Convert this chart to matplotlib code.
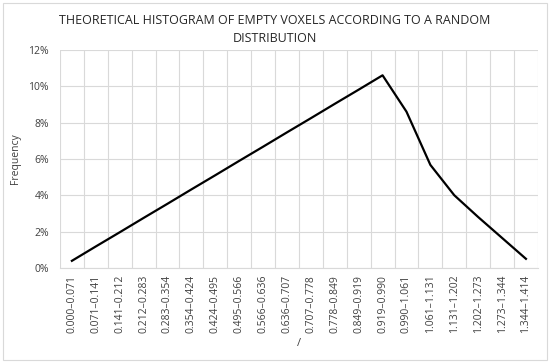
import matplotlib.pyplot as plt
from matplotlib.patches import Rectangle
from matplotlib.ticker import FuncFormatter, MultipleLocator

plt.rcParams["font.family"] = ["Open Sans", "DejaVu Sans"]

bins = [
    "0.000–0.071", "0.071–0.141", "0.141–0.212", "0.212–0.283", "0.283–0.354",
    "0.354–0.424", "0.424–0.495", "0.495–0.566", "0.566–0.636", "0.636–0.707",
    "0.707–0.778", "0.778–0.849", "0.849–0.919", "0.919–0.990", "0.990–1.061",
    "1.061–1.131", "1.131–1.202", "1.202–1.273", "1.273–1.344", "1.344–1.414",
]
freq = [
    0.0039, 0.0118, 0.0196, 0.0275, 0.0353, 0.0432, 0.0510, 0.0589, 0.0667, 0.0746,
    0.0824, 0.0903, 0.0981, 0.1060, 0.0860, 0.0567, 0.0400, 0.0280, 0.0165, 0.0050,
]

fig = plt.figure(figsize=(5.5, 3.64), dpi=100)
fig.patches.append(Rectangle((0.006, 0.012), 0.988, 0.98, transform=fig.transFigure,
                             fill=False, edgecolor="#d9d9d9", linewidth=0.8))
ax = fig.add_axes([0.109, 0.264, 0.869, 0.599])

x = list(range(len(bins)))
ax.plot(x, freq, color="black", linewidth=1.6, solid_joinstyle="round")

ax.set_xlim(-0.5, len(bins) - 0.5)
ax.set_ylim(0, 0.12)
ax.yaxis.set_major_locator(MultipleLocator(0.02))
ax.yaxis.set_major_formatter(FuncFormatter(lambda v, p: f"{v * 100:.0f}%"))
ax.set_xticks(x)
ax.set_xticklabels(bins, rotation=90, fontsize=7.5, color="#404040")
ax.set_xticks([i - 0.5 for i in range(len(bins) + 1)], minor=True)
ax.tick_params(axis="y", labelsize=7.5, colors="#404040", length=0, pad=8)
ax.tick_params(axis="x", which="both", length=0, pad=5)

ax.grid(axis="y", which="major", color="#d9d9d9", linewidth=0.8)
ax.grid(axis="x", which="minor", color="#d9d9d9", linewidth=0.8)
ax.set_axisbelow(True)
for side in ["left", "right", "top"]:
    ax.spines[side].set_visible(False)
ax.spines["bottom"].set_color("#d9d9d9")

ax.set_ylabel("Frequency", fontsize=7.5, color="#404040", labelpad=5)
ax.set_xlabel("/", fontsize=8, color="#404040", labelpad=3)
fig.text(0.5, 0.945, "THEORETICAL HISTOGRAM OF EMPTY VOXELS ACCORDING TO A RANDOM",
         ha="center", va="center", fontsize=9, color="#262626")
fig.text(0.5, 0.895, "DISTRIBUTION", ha="center", va="center", fontsize=9, color="#262626")

fig.savefig("out.png", dpi=100)
